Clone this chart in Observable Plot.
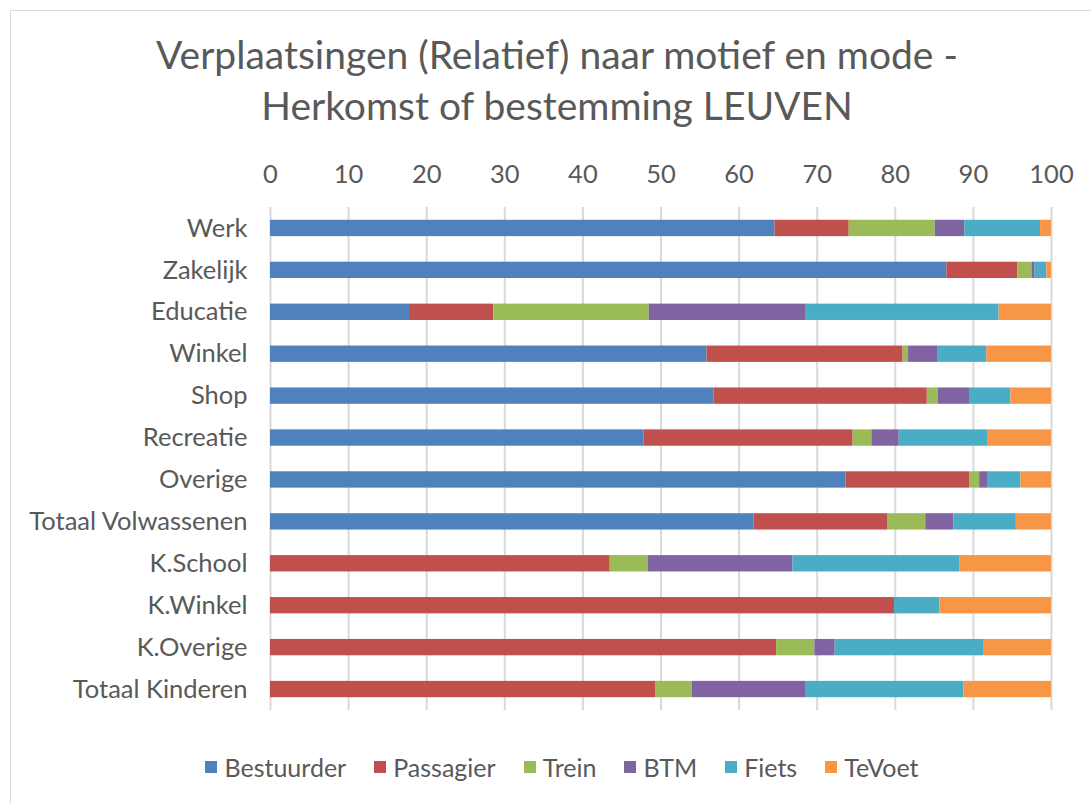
<!DOCTYPE html>
<html>
<head>
<meta charset="utf-8">
<script src="https://cdn.jsdelivr.net/npm/d3@7"></script>
<script src="https://cdn.jsdelivr.net/npm/@observablehq/plot@0.6"></script>
<style>
  html, body { margin: 0; padding: 0; background: #fff; overflow: hidden; }
  #wrap { position: relative; width: 1091px; height: 803px; overflow: hidden; font-family: Lato, "Open Sans", sans-serif; color: #595959; }
  #frame { position: absolute; left: 10px; top: 10px; width: 1100px; height: 820px; border: 1.5px solid #d9d9d9; box-sizing: border-box; }
  #title { position: absolute; left: 10px; width: 1094px; top: 29px; text-align: center; font-size: 39px; line-height: 51px; }
  #chart { position: absolute; left: 0; top: 0; }
  #legend { position: absolute; left: 10px; width: 1104px; top: 752px; display: flex; justify-content: center; gap: 28px; font-size: 25px; }
  #legend .item { display: flex; align-items: center; gap: 7px; }
  #legend .sw { width: 12px; height: 12px; display: inline-block; }
</style>
</head>
<body>
<div id="wrap">
  <div id="frame"></div>
  <div id="title"></div>
  <div id="chart"></div>
  <div id="legend"></div>
</div>
<script>
const titleLines = ["Verplaatsingen (Relatief) naar motief en mode -", "Herkomst of bestemming LEUVEN"];
const categories = ["Werk","Zakelijk","Educatie","Winkel","Shop","Recreatie","Overige","Totaal Volwassenen","K.School","K.Winkel","K.Overige","Totaal Kinderen"];
const modes = ["Bestuurder","Passagier","Trein","BTM","Fiets","TeVoet"];
const colors = ["#4F81BD","#C0504D","#9BBB59","#8064A2","#4BACC6","#F79646"];
const xTicks = [0,10,20,30,40,50,60,70,80,90,100];

const bestuurder = [64.6,86.6,17.8,55.9,56.8,47.8,73.7,61.9,0,0,0,0];
const passagier  = [9.5,9.1,10.8,25.1,27.3,26.8,15.8,17.1,43.5,79.9,64.8,49.3];
const trein      = [11.0,1.8,19.9,0.7,1.4,2.4,1.3,4.9,4.9,0,4.9,4.7];
const btm        = [3.8,0.4,20.1,3.8,4.1,3.5,1.1,3.6,18.5,0,2.6,14.6];
const fiets      = [9.7,1.5,24.7,6.2,5.2,11.4,4.2,8.0,21.4,5.8,19.0,20.2];
const tevoet     = [1.4,0.6,6.7,8.3,5.2,8.1,3.9,4.5,11.7,14.3,8.7,11.2];

const series = [bestuurder, passagier, trein, btm, fiets, tevoet];
const rows = modes.flatMap((m, i) => categories.map((c, j) => ({category: c, mode: m, value: series[i][j]})));

document.getElementById("title").innerHTML = titleLines.map(t => `<div>${t}</div>`).join("");

const chart = Plot.plot({
  width: 1091,
  height: 711,
  marginTop: 207,
  marginBottom: 1,
  marginLeft: 270,
  marginRight: 40,
  style: {fontFamily: "Lato, 'Open Sans', sans-serif", fontSize: "25.5px", color: "#595959", background: "transparent"},
  x: {domain: [0, 100]},
  y: {domain: categories, paddingInner: 0.61, paddingOuter: 0.305, round: false},
  color: {domain: modes, range: colors},
  marks: [
    Plot.gridX(xTicks, {stroke: "#d9d9d9", strokeWidth: 2, strokeOpacity: 1}),
    Plot.barX(rows, Plot.stackX({x: "value", y: "category", fill: "mode", order: modes})),
    Plot.axisX(xTicks, {anchor: "top", tickSize: 0, tickPadding: 25, label: null, fill: "#595959"}),
    Plot.axisY({anchor: "left", tickSize: 0, tickPadding: 23, label: null, fill: "#595959"})
  ]
});
document.getElementById("chart").appendChild(chart);

document.getElementById("legend").innerHTML = modes.map((m, i) =>
  `<div class="item"><span class="sw" style="background:${colors[i]}"></span><span>${m}</span></div>`).join("");
</script>
</body>
</html>
